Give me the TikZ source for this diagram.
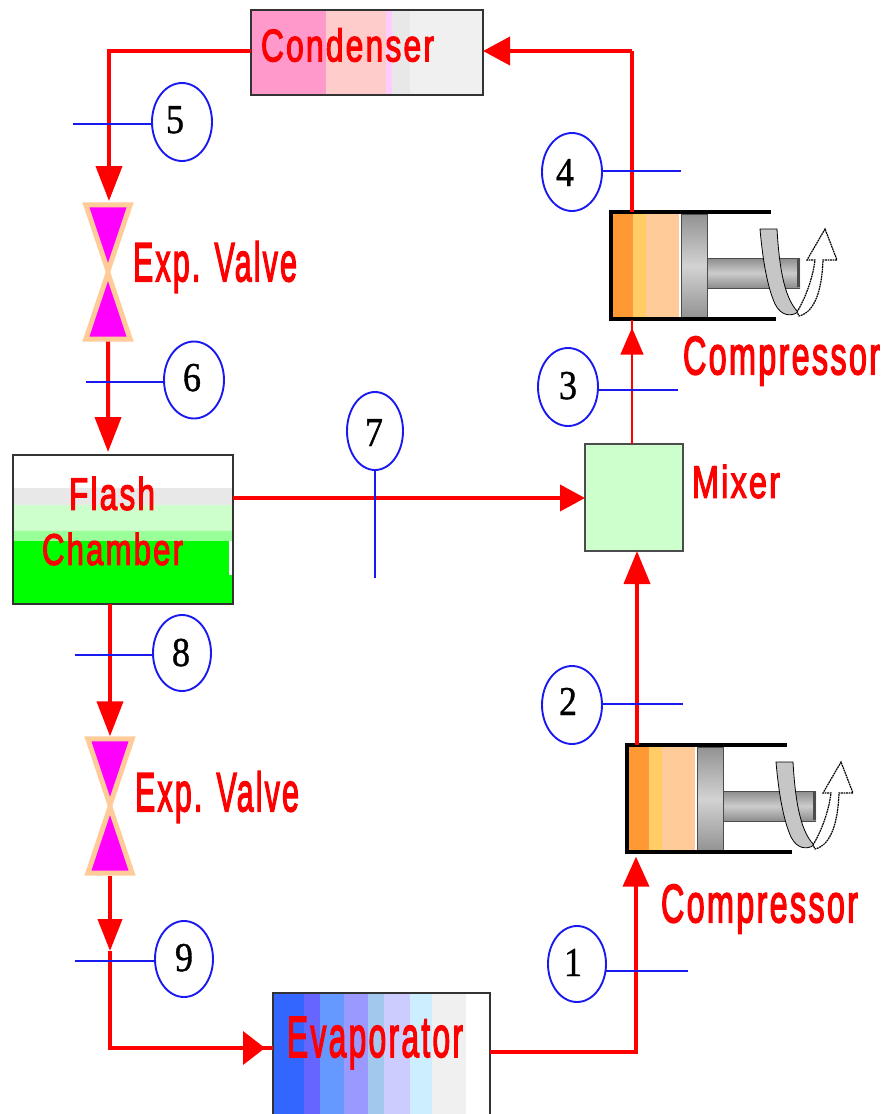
\documentclass[tikz,border=0pt]{standalone}
\usepackage{fontspec}
\setmainfont{Liberation Sans}
\newfontfamily\digitfont[FakeBold=1]{Liberation Serif}
\newfontfamily\labelfont[FakeBold=3,LetterSpace=7]{Liberation Sans}
\usetikzlibrary{shapes.geometric,arrows.meta,calc}
\definecolor{peach}{HTML}{FFCC99}
\definecolor{flowred}{HTML}{FF0000}
\definecolor{tagblue}{HTML}{1A1AF0}
\definecolor{valvefill}{HTML}{FF00FF}
\definecolor{orangeA}{HTML}{FF9933}
\definecolor{orangeB}{HTML}{FFCC66}
\tikzset{
  flow/.style={draw=flowred,line width=4pt},
  thinflow/.style={draw=flowred,line width=1.6pt},
  bigtip/.style={-{Triangle[length=35pt,width=26pt,color=flowred]}},
  midtip/.style={-{Triangle[length=27pt,width=23pt,color=flowred]}},
  tag/.style={draw=tagblue,line width=1.9pt},
  numcirc/.style={ellipse,draw=tagblue,line width=1.9pt,fill=white,inner sep=0pt,outer sep=0pt,font=\digitfont},
  unit/.style={rectangle,draw=black!80,line width=1.8pt,inner sep=0pt,outer sep=0pt,anchor=north west},
  lab/.style={inner sep=0pt,text=flowred,font=\labelfont},
  valvepart/.style={fill=valvefill,draw=peach,line width=5pt,miter limit=10},
  cyl/.style={line width=3.8pt,draw=black},
}
% digit centred on the node, shifted by dx/dy
\newcommand{\numlabel}[3]{\smash{\raisebox{\dimexpr #2pt-14pt\relax}{\makebox[0pt]{\hspace*{\dimexpr 2\dimexpr #1pt\relax\relax}\scalebox{0.88}[1]{\fontsize{41pt}{41pt}\selectfont #3}}}}}
\newcommand{\compressorbody}{%
  \fill[peach] (2,2) rectangle (68,106);
  \fill[orangeA] (2,2) rectangle (22,106);
  \fill[orangeB] (22,2) rectangle (35,106);
  \shade[top color=gray!90,bottom color=gray!90,middle color=gray!40] (96,46) rectangle (189,76);
  \fill[black!70] (186,47) rectangle (189,75);
  \draw[black!70,line width=1pt] (96,46) -- (189,46) (96,76) -- (189,76);
  \shade[top color=gray!85,bottom color=gray!85,middle color=gray!35] (70,2) rectangle (96,106);
  \draw[black!70,line width=1pt] (70,2) rectangle (96,106);
  \draw[cyl] (160,0) -- (0,0) -- (0,107) -- (165,107);
  \path[fill=gray!45,draw=black,line width=.8pt] (149,17) -- (166,17)
     .. controls (168,50) and (172,85) .. (187,100)
     .. controls (180,105) and (170,104) .. (164,92)
     .. controls (155,72) and (151,40) .. (149,17) -- cycle;
  \path[fill=white,draw=black,line width=1.2pt,dash pattern=on 1.8pt off .7pt] (186,100)
     .. controls (195,85) and (202,65) .. (204,48) -- (196,48) -- (214,17) -- (226,48) -- (212,48)
     .. controls (211,75) and (205,100) .. (188,104) -- cycle;
}
\begin{document}
\begin{tikzpicture}[x=1pt,y=-1pt]
\useasboundingbox (0,0) rectangle (883,1114);
\clip (0,0) rectangle (883,1114);
% ---- coloured bands
\foreach \a/\b/\c in {251/326/FF99CC,326/386/FFCCCC,386/392/FFCCFF,392/410/E8E8E8,410/483/F0F0F0}{
  \definecolor{bandc}{HTML}{\c}\fill[bandc] (\a,10) rectangle (\b,95);}
\foreach \a/\b/\c in {488/505/E8E8E8,505/531/CCFFCC,531/541/99FF99,541/604/00FF00}{
  \definecolor{bandc}{HTML}{\c}\fill[bandc] (13,\a) rectangle (233,\b);}
\fill[white] (228.5,541) rectangle (232,575);
\foreach \a/\b/\c in {273/304/3366FF,304/320/6666FF,320/344/6699FF,344/368/9999FF,368/384/A3C8EE,384/410/CCCCFF,410/432/CCEEFF,432/466/F0F0F0}{
  \definecolor{bandc}{HTML}{\c}\fill[bandc] (\a,993) rectangle (\b,1130);}
% ---- units
\node[unit,minimum width=232pt,minimum height=85pt] (cond) at (251,10) {};
\node[unit,minimum width=220pt,minimum height=149pt] (flash) at (13,455) {};
\node[unit,minimum width=217pt,minimum height=137pt] (evap) at (273,993) {};
\node[unit,fill=green!20,minimum width=98pt,minimum height=107pt,draw=black!70] (mixer) at (585,444) {};
% ---- compressors
\begin{scope}[shift={(611,212)}]\compressorbody\end{scope}
\begin{scope}[shift={(627,745)}]\compressorbody\end{scope}
\node[inner sep=0pt,minimum width=1pt,minimum height=107pt] (compA) at (632,266) {};
\node[inner sep=0pt,minimum width=1pt,minimum height=107pt] (compB) at (637,799) {};
% ---- valves
\node[inner sep=0pt,minimum width=50pt,minimum height=139pt] (valveA) at (108,272) {};
\node[inner sep=0pt,minimum width=50pt,minimum height=139pt] (valveB) at (110,806) {};
\foreach \v in {valveA,valveB}{
  \path[valvepart] ($(\v.north west)+(3,2.5)$) -- ($(\v.north east)+(-3,2.5)$) -- ($(\v.center)+(0,-1)$) -- cycle;
  \path[valvepart] ($(\v.south west)+(3,-2.5)$) -- ($(\v.south east)+(-3,-2.5)$) -- ($(\v.center)+(0,1)$) -- cycle;
}
% ---- connectors
\coordinate (cornerCondL) at (109,51);
\coordinate (cornerCondR) at (632,51);
\coordinate (cornerEvapL) at (110,1048);
\coordinate (cornerEvapR) at (636,1052);
\coordinate (midNine) at (110,951);
\draw[flow] (cond.west |- cornerCondL) -- (cornerCondL) -- (cornerCondL |- 0,165);
\draw[flow,bigtip] (cornerCondL |- 0,160) -- (cornerCondL |- 0,201);
\draw[flow,bigtip] (valveA.south) -- ($(flash.north west)!0.432!(flash.north east)+(0,-3)$);
\draw[flow,-{Triangle[length=25pt,width=26pt,color=flowred]}] (flash.east |- 0,498) -- (mixer.west |- 0,498);
\draw[thinflow] (mixer.north -| compA) -- (compA.south);
\draw[thinflow,midtip] (mixer.north -| compA) -- ($(compA.south)+(0,8)$);
\draw[flow] (compA.north) -- (cornerCondR);
\draw[flow,-{Triangle[length=27pt,width=28pt,color=flowred]}] (cornerCondR) -- (cond.east |- cornerCondR);
\draw[flow,bigtip] (flash.south -| valveB) -- (valveB.north);
\draw[flow,-{Triangle[length=32pt,width=24pt,color=flowred]}] (valveB.south) -- (midNine);
\draw[flow] (midNine) -- (cornerEvapL) -- (cornerEvapL -| evap.west);
\draw[flow,-{Triangle[length=22pt,width=33pt,color=flowred]}] (cornerEvapL) -- ($(cornerEvapL -| evap.west)+(-8,0)$);
\draw[flow,-{Triangle[length=30pt,width=26pt,color=flowred]}] (evap.east |- cornerEvapR) -- (cornerEvapR) -- ($(compB.south)+(-1,4)$);
\draw[flow,-{Triangle[length=33pt,width=26pt,color=flowred]}] (compB.north) -- (compB.north |- mixer.south);
% ---- state markers
\coordinate (f5) at (73,124);  \coordinate (f6) at (86,382);
\coordinate (f4) at (681,171); \coordinate (f3) at (678,390);
\coordinate (f7) at (375,578); \coordinate (f8) at (75,655);
\coordinate (f2) at (683,704); \coordinate (f9) at (75,961);
\coordinate (f1) at (688,971);
\node[numcirc,minimum width=60pt,minimum height=78pt] (n5) at (182,122) {\numlabel{-7}{3}{5}};
\node[numcirc,minimum width=60pt,minimum height=77pt] (n6) at (194,380) {\numlabel{-2}{3}{6}};
\node[numcirc,minimum width=60pt,minimum height=78pt] (n4) at (572,172) {\numlabel{-7}{0}{4}};
\node[numcirc,minimum width=60pt,minimum height=78pt] (n3) at (568,387) {\numlabel{0}{2}{3}};
\node[numcirc,minimum width=56pt,minimum height=78pt] (n7) at (375,431) {\numlabel{-1}{-1}{7}};
\node[numcirc,minimum width=58pt,minimum height=76pt] (n8) at (182,653) {\numlabel{-1}{1}{8}};
\node[numcirc,minimum width=60pt,minimum height=78pt] (n2) at (572,705) {\numlabel{-4}{4}{2}};
\node[numcirc,minimum width=58pt,minimum height=76pt] (n9) at (184,959) {\numlabel{0}{2}{9}};
\node[numcirc,minimum width=58pt,minimum height=76pt] (n1) at (577,964) {\numlabel{-4}{2}{1}};
\draw[tag] (f5) -- (f5 -| n5.west);
\draw[tag] (f6) -- (f6 -| n6.west);
\draw[tag] (f4) -- (f4 -| n4.east);
\draw[tag] (f3) -- (f3 -| n3.east);
\draw[tag] (n7.south) -- (f7);
\draw[tag] (f8) -- (f8 -| n8.west);
\draw[tag] (f2) -- (f2 -| n2.east);
\draw[tag] (f9) -- (f9 -| n9.west);
\draw[tag] (f1) -- (f1 -| n1.east);
% ---- labels
\node[lab] (tCond) at (347.5,45) {\resizebox{173pt}{33pt}{Condenser}};
\node[lab] (tValveA) at (215,267) {\resizebox{164pt}{40pt}{Exp. Valve}};
\node[lab] (tValveB) at (217,797) {\resizebox{164pt}{40pt}{Exp. Valve}};
\node[lab] (tCompA) at (781.5,361) {\resizebox{197pt}{38pt}{Compressor}};
\node[lab] (tCompB) at (759.5,909) {\resizebox{197pt}{38pt}{Compressor}};
\node[lab] (tMixer) at (736,481.5) {\resizebox{88pt}{33pt}{Mixer}};
\node[lab] (tFlash) at (112,493.5) {\resizebox{86pt}{33pt}{Flash}};
\node[lab] (tChamber) at (112.5,549) {\resizebox{141pt}{32pt}{Chamber}};
\node[lab] (tEvap) at (375,1043) {\resizebox{176pt}{40pt}{Evaporator}};
\end{tikzpicture}
\end{document}
